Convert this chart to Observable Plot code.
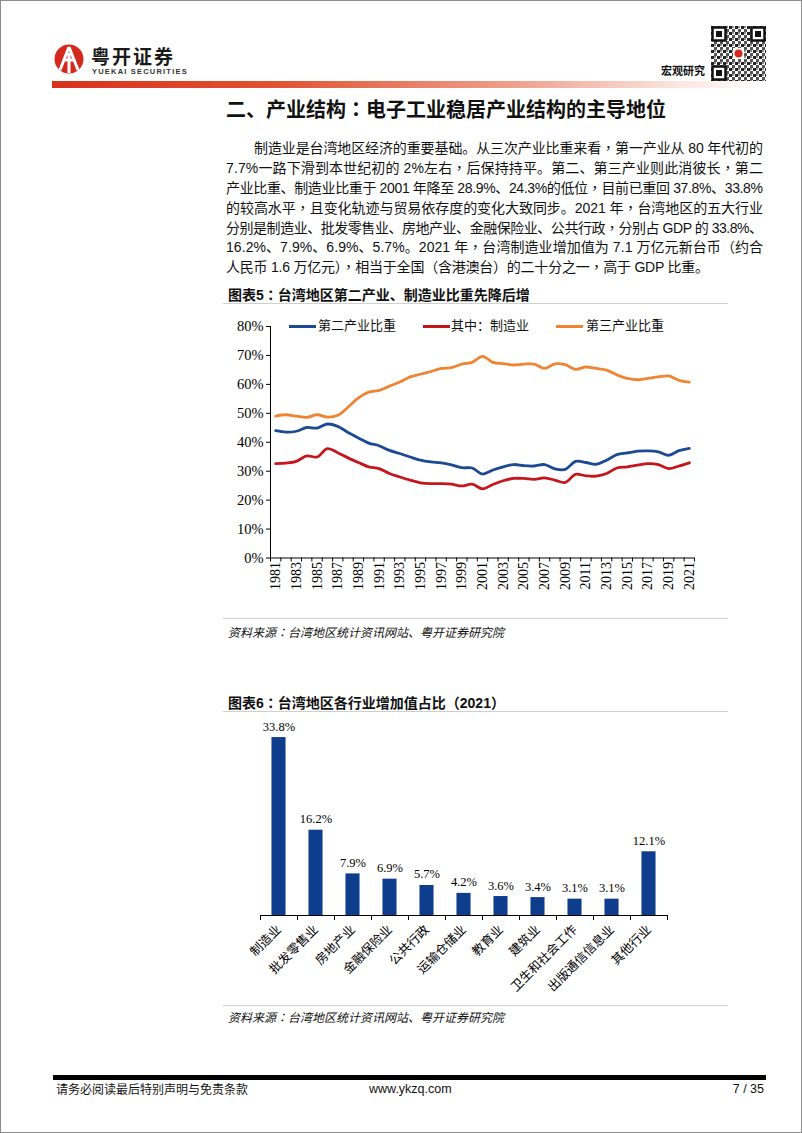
<!DOCTYPE html>
<html>
<head>
<meta charset="utf-8">
<script src="https://cdn.jsdelivr.net/npm/d3@7"></script>
<script src="https://cdn.jsdelivr.net/npm/@observablehq/plot@0.6"></script>
<style>
html,body{margin:0;padding:0;background:#fff;}
#page{position:relative;width:802px;height:1133px;overflow:hidden;box-sizing:border-box;border:1px solid #8c8c8c;font-family:"Liberation Sans","Noto Sans CJK SC",sans-serif;color:#111;background:#fff;}
.abs{position:absolute;}
.pl{position:absolute;white-space:nowrap;font-size:14px;line-height:20px;height:20px;}
.ctitle{position:absolute;left:227px;font-size:14px;font-weight:bold;white-space:nowrap;line-height:18px;}
.gline{position:absolute;left:222px;width:505px;height:0;border-top:1.5px solid #cfcfcf;}
.src{position:absolute;left:227px;font-size:12px;font-style:italic;white-space:nowrap;line-height:16px;}
.leg{position:absolute;font-size:13px;line-height:16px;white-space:nowrap;font-family:"Liberation Serif","Noto Sans CJK SC",serif;}
.sw{position:absolute;height:3px;}
.c{font-family:"Noto Sans CJK TC",sans-serif;}
</style>
</head>
<body>
<div id="page">
  <!-- header -->
  <svg class="abs" style="left:53px;top:42px" width="32" height="34" viewBox="0 0 32 34">
    <circle cx="15" cy="16" r="14.5" fill="#d42a1d"/>
    <path d="M15 4 L6 27 M15 4 L24 27 M9 17 L21 17 M15 10 L15 30" stroke="#fff" stroke-width="3" fill="none"/>
  </svg>
  <div class="abs" style="left:90px;top:46px;font-size:19px;font-weight:bold;letter-spacing:2px;line-height:18px;height:18px;font-family:'Noto Sans CJK SC',sans-serif;color:#1a1a1a">粤开证券</div>
  <div class="abs" style="left:91px;top:67px;font-size:7.5px;letter-spacing:1.2px;line-height:7px;height:7px;font-weight:bold;color:#333">YUEKAI SECURITIES</div>
  <div class="abs" style="left:660px;top:62px;font-size:11px;font-weight:bold;line-height:14px;font-family:'Noto Sans CJK SC',sans-serif">宏观研究</div>
  <svg class="abs" style="left:710px;top:25px" width="55" height="55" viewBox="0 0 55 55">
    <defs>
      <pattern id="qr" width="6" height="6" patternUnits="userSpaceOnUse">
        <rect width="6" height="6" fill="#fff"/>
        <rect x="0" y="0" width="3" height="3" fill="#222"/>
        <rect x="3" y="3" width="3" height="3" fill="#555"/>
        <rect x="3" y="0" width="2" height="2" fill="#888"/>
      </pattern>
    </defs>
    <rect width="55" height="55" fill="url(#qr)"/>
    <g fill="#fff" stroke="#111" stroke-width="2.5">
      <rect x="1.5" y="1.5" width="13" height="13"/>
      <rect x="40.5" y="1.5" width="13" height="13"/>
      <rect x="1.5" y="40.5" width="13" height="13"/>
    </g>
    <g fill="#111"><rect x="5" y="5" width="6" height="6"/><rect x="44" y="5" width="6" height="6"/><rect x="5" y="44" width="6" height="6"/></g>
    <rect x="22" y="22" width="11" height="11" fill="#fff"/><circle cx="27.5" cy="27.5" r="4" fill="#d42a1d"/>
  </svg>
  <div class="abs" style="left:51px;top:80px;width:712px;height:7px;background:linear-gradient(to right,#d8321c 0%,#e0502f 30%,#eea08c 65%,#fbe6e0 88%,#ffffff 100%)"></div>

  <!-- heading and paragraph -->
  <div class="abs" style="left:225px;top:96px;font-size:20px;font-weight:bold;line-height:24px;white-space:nowrap;font-family:'Noto Sans CJK SC',sans-serif">二、产业结构<span class="c">：</span>电子工业稳居产业结构的主导地位</div>
  <div class="pl jl" data-w="509" style="left:253px;top:136px"><span>制造业是台湾地区经济的重要基础。从三次产业比重来看<span class="c">，</span>第一产业从 80 年代初的</span></div>
  <div class="pl jl" data-w="537" style="left:225px;top:156px"><span>7.7%一路下滑到本世纪初的  2%左右<span class="c">，</span>后保持持平。第二、第三产业则此消彼长<span class="c">，</span>第二</span></div>
  <div class="pl jl" data-w="537" style="left:225px;top:176px"><span>产业比重、制造业比重于 2001 年降至 28.9%、24.3%的低位<span class="c">，</span>目前已重回 37.8%、33.8%</span></div>
  <div class="pl jl" data-w="537" style="left:225px;top:196px"><span>的较高水平<span class="c">，</span>且变化轨迹与贸易依存度的变化大致同步。2021 年<span class="c">，</span>台湾地区的五大行业</span></div>
  <div class="pl jl" data-w="537" style="left:225px;top:216px"><span>分别是制造业、批发零售业、房地产业、金融保险业、公共行政<span class="c">，</span>分别占 GDP 的 33.8%、</span></div>
  <div class="pl jl" data-w="537" style="left:225px;top:235px"><span>16.2%、7.9%、6.9%、5.7%。2021 年<span class="c">，</span>台湾制造业增加值为 7.1 万亿元新台币<span class="c">（</span>约合</span></div>
  <div class="pl jl" data-w="483" style="left:225px;top:255px"><span>人民币 1.6 万亿元<span class="c">）</span><span class="c">，</span>相当于全国<span class="c">（</span>含港澳台<span class="c">）</span>的二十分之一<span class="c">，</span>高于 GDP 比重。</span></div>

  <!-- chart 5 -->
  <div class="ctitle" style="top:284px">图表5<span class="c">：</span>台湾地区第二产业、制造业比重先降后增</div>
  <div class="gline" style="top:302px"></div>
  <div id="chart1" class="abs" style="left:225px;top:315px"></div>
  <div class="sw" style="left:288px;top:324px;width:27px;background:#1c4a92"></div>
  <div class="leg" style="left:317px;top:317px">第二产业比重</div>
  <div class="sw" style="left:422px;top:324px;width:27px;background:#c4161c"></div>
  <div class="leg" style="left:450px;top:317px">其中：制造业</div>
  <div class="sw" style="left:555px;top:324px;width:27px;background:#ef8433"></div>
  <div class="leg" style="left:585px;top:317px">第三产业比重</div>
  <div class="gline" style="top:617px"></div>
  <div class="src" style="top:623px">资料来源<span class="c">：</span>台湾地区统计资讯网站、粤开证券研究院</div>

  <!-- chart 6 -->
  <div class="ctitle" style="top:692px">图表6<span class="c">：</span>台湾地区各行业增加值占比<span class="c">（</span>2021<span class="c">）</span></div>
  <div class="gline" style="top:710px"></div>
  <div id="chart2" class="abs" style="left:225px;top:715px"></div>
  <div class="gline" style="top:1004px"></div>
  <div class="src" style="top:1008px">资料来源<span class="c">：</span>台湾地区统计资讯网站、粤开证券研究院</div>

  <!-- footer -->
  <div class="abs" style="left:52px;top:1074px;width:713px;height:5px;background:#000"></div>
  <div class="abs" style="left:55px;top:1081px;font-size:12px;line-height:14px;white-space:nowrap;font-family:'Noto Sans CJK SC',sans-serif">请务必阅读最后特别声明与免责条款</div>
  <div class="abs" style="left:368px;top:1081px;font-size:12.5px;line-height:14px;white-space:nowrap">www.ykzq.com</div>
  <div class="abs" style="left:728px;top:1081px;width:35px;text-align:right;font-size:12.5px;line-height:14px;white-space:nowrap">7 / 35</div>
</div>

<script>
// ---------- Chart 5 data ----------
const years = [1981,1982,1983,1984,1985,1986,1987,1988,1989,1990,1991,1992,1993,1994,1995,1996,1997,1998,1999,2000,2001,2002,2003,2004,2005,2006,2007,2008,2009,2010,2011,2012,2013,2014,2015,2016,2017,2018,2019,2020,2021];
const secondaryShare = [44.0,43.5,43.8,45.1,44.9,46.3,45.5,43.4,41.5,39.7,38.8,37.2,36.1,34.9,33.8,33.2,32.9,32.2,31.2,31.1,29.0,30.4,31.5,32.3,31.9,31.8,32.3,30.8,30.6,33.4,33.0,32.4,33.8,35.7,36.3,36.9,37.0,36.7,35.5,37.1,37.9];
const manufacturingShare = [32.6,32.8,33.4,35.3,34.9,37.8,36.4,34.6,33.0,31.5,30.9,29.2,28.0,26.9,26.0,25.7,25.7,25.5,24.9,25.5,23.9,25.4,26.7,27.5,27.5,27.2,27.7,26.9,26.1,28.9,28.4,28.3,29.2,31.1,31.5,32.1,32.6,32.3,30.9,31.8,32.9];
const tertiaryShare = [49.0,49.5,49.0,48.6,49.5,48.7,49.3,52.1,55.3,57.3,57.9,59.4,60.8,62.6,63.5,64.4,65.5,65.8,67.0,67.6,69.7,67.6,67.2,66.7,67.0,67.0,65.5,67.1,66.8,65.2,66.0,65.5,64.9,63.3,62.1,61.6,62.1,62.6,62.9,61.4,60.8];
const seriesNames = ["第二产业比重","其中：制造业","第三产业比重"];
const seriesColors = ["#1c4a92","#c4161c","#ef8433"];
const yTicks1 = [0,10,20,30,40,50,60,70,80];
const yearLabels = [1981,1983,1985,1987,1989,1991,1993,1995,1997,1999,2001,2003,2005,2007,2009,2011,2013,2015,2017,2019,2021];

// ---------- Chart 6 data ----------
const industries = ["制造业","批发零售业","房地产业","金融保险业","公共行政","运输仓储业","教育业","建筑业","卫生和社会工作","出版通信信息业","其他行业"];
const industryShare = [33.8,16.2,7.9,6.9,5.7,4.2,3.6,3.4,3.1,3.1,12.1];

// ---------- build chart 5 ----------
const lineData = [];
[secondaryShare, manufacturingShare, tertiaryShare].forEach((arr, k) => {
  arr.forEach((v, i) => lineData.push({year: years[i], value: v, series: seriesNames[k]}));
});
const yearBounds = years.map(y => y - 0.5).concat([years[years.length - 1] + 0.5]);

const chart1 = Plot.plot({
  width: 500, height: 290,
  marginLeft: 44, marginRight: 32, marginTop: 10, marginBottom: 48.5,
  style: {fontFamily: "'Liberation Serif', 'Noto Sans CJK SC', serif", fontSize: "13px", color: "#000", background: "transparent", overflow: "visible"},
  x: {domain: [yearBounds[0], yearBounds[yearBounds.length - 1]], axis: null},
  y: {domain: [0, 80], axis: null},
  color: {domain: seriesNames, range: seriesColors},
  marks: [
    Plot.axisY({ticks: yTicks1, tickFormat: d => d + "%", tickSize: 4, tickPadding: 3, stroke: "#000", fontSize: 14.5, label: null}),
    Plot.axisX({ticks: yearBounds, tickFormat: () => "", tickSize: 4, stroke: "#000", label: null}),
    Plot.axisX({ticks: yearLabels, tickFormat: d => String(d), tickSize: 0, tickPadding: 4, tickRotate: -90, fontSize: 14, label: null}),
    Plot.ruleY([0], {stroke: "#000", strokeWidth: 1}),
    Plot.ruleX([yearBounds[0]], {stroke: "#000", strokeWidth: 1}),
    Plot.line(lineData, {x: "year", y: "value", z: "series", stroke: "series", strokeWidth: 2.8, curve: "catmull-rom"})
  ]
});
document.getElementById("chart1").appendChild(chart1);

// ---------- build chart 6 ----------
const barData = industries.map((name, i) => ({i, name, v: industryShare[i]}));
const catIdx = industries.map((_, i) => i);
const catBounds = industries.map((_, i) => i - 0.5).concat([industries.length - 0.5]);

const chart2 = Plot.plot({
  width: 470, height: 290,
  marginLeft: 34, marginRight: 29, marginTop: 10, marginBottom: 91,
  style: {fontFamily: "'Liberation Serif', 'Noto Sans CJK SC', serif", fontSize: "12.5px", color: "#000", background: "transparent", overflow: "visible"},
  x: {domain: [catBounds[0], catBounds[catBounds.length - 1]], axis: null},
  y: {domain: [0, 35.9], axis: null},
  marks: [
    Plot.rectY(barData, {x1: d => d.i - 0.19, x2: d => d.i + 0.19, y1: 0, y2: "v", fill: "#0d3d8c"}),
    Plot.ruleY([0], {stroke: "#000", strokeWidth: 1}),
    Plot.axisX({ticks: catBounds, tickFormat: () => "", tickSize: 5, stroke: "#000", label: null}),
    Plot.axisX({ticks: catIdx, tickFormat: i => industries[i], tickSize: 0, tickPadding: 12, tickRotate: -45, fontSize: 12.5, label: null}),
    Plot.text(barData, {x: "i", y: "v", text: d => d.v.toFixed(1) + "%", dy: -11, fontSize: 12.5, fill: "#000"})
  ]
});
document.getElementById("chart2").appendChild(chart2);

// ---------- justify paragraph lines ----------
function justify() {
  document.querySelectorAll(".jl").forEach(el => {
    const span = el.firstElementChild;
    span.style.letterSpacing = "0px";
    const w = span.getBoundingClientRect().width;
    const n = Array.from(span.textContent).length;
    const target = +el.dataset.w;
    span.style.letterSpacing = ((target - w) / (n - 1)) + "px";
  });
}
justify();
if (document.fonts && document.fonts.ready) document.fonts.ready.then(justify);
</script>
</body>
</html>
